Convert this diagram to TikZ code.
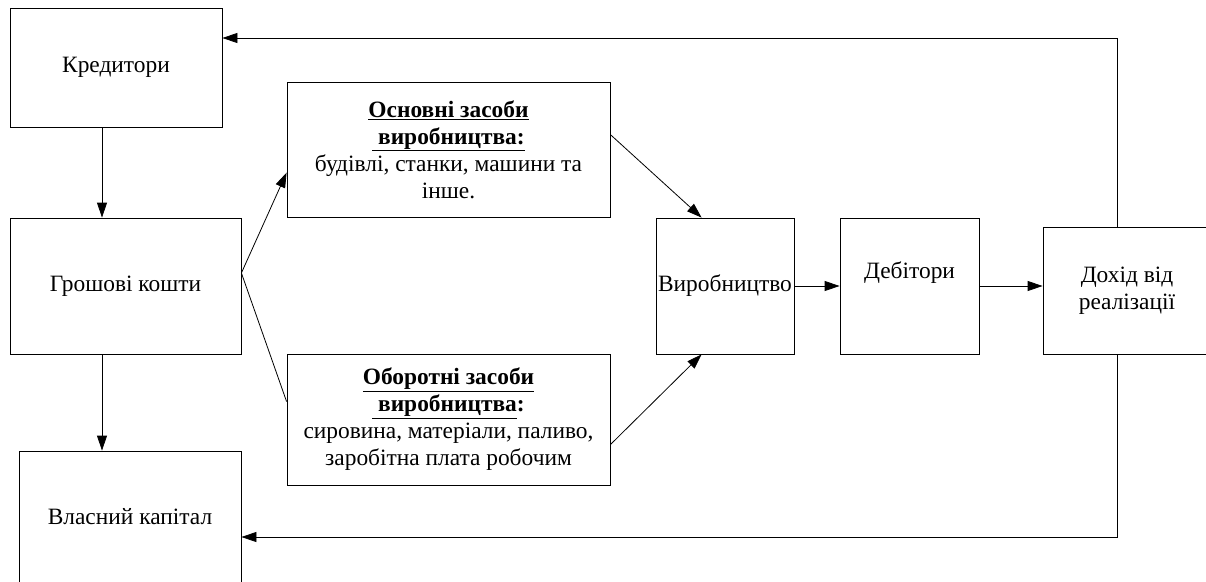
\documentclass[tikz,border=0pt]{standalone}
\usepackage{fontspec}
\setmainfont{Liberation Serif}
\usetikzlibrary{arrows.meta,calc}

\tikzset{
  box/.style={draw=black, line width=0.8pt, rectangle, inner sep=0pt,
              align=center, font=\fontsize{23.4}{27}\selectfont},
  lbl/.style={inner sep=0pt, align=center, font=\fontsize{23.4}{27}\selectfont},
  link/.style={draw=black, line width=0.8pt},
  arr/.style={link, -{Triangle[length=15pt,width=10pt]}}
}

\begin{document}
\begin{tikzpicture}[x=1pt, y=-1pt]
  \useasboundingbox (0,0) rectangle (1206,581);

  % boxes
  \node[box, minimum width=212pt, minimum height=119pt] (kred) at (116,67.5) {Кредитори};
  \node[box, minimum width=231pt, minimum height=136pt] (grosh) at (125.5,286) {Грошові кошти};
  \node[box, minimum width=222pt, minimum height=132pt] (vlas) at (130,517) {Власний капітал};
  \node[box, minimum width=323pt, minimum height=135pt] (osn) at (448.5,149.5)
    {\textbf{\underline{Основні засоби}}\\
     \textbf{\underline{\ виробництва:}}\\
     будівлі, станки, машини та\\
     інше.};
  \node[box, minimum width=323pt, minimum height=131pt] (obor) at (448.5,419.5)
    {\textbf{\underline{Оборотні засоби}}\\
     \textbf{\underline{\ виробництва}:}\\
     сировина, матеріали, паливо,\\
     заробітна плата робочим};
  \node[box, minimum width=138pt, minimum height=136pt] (vyr) at (725,286) {Виробництво};
  \node[box, minimum width=139pt, minimum height=136pt] (deb) at (909.5,286) {};
  \node[lbl] (debt) at (909.5,273) {Дебітори};
  \node[box, minimum width=168pt, minimum height=127pt] (doh) at (1127,290.5) {Дохід від\\реалізації};

  % helper points for the routed connectors
  \coordinate (lx) at (102,0);
  \coordinate (fork) at ($(grosh.east)+(0,-13)$);
  \coordinate (rt) at (1117,38);
  \coordinate (rb) at (1117,537);

  % connectors
  \draw[arr] (kred.south -| lx) -- (grosh.north -| lx);
  \draw[arr] (grosh.south -| lx) -- (vlas.north -| lx);
  \draw[arr] (fork) -- ($(osn.north west)+(0,91)$);
  \draw[link] (fork) -- ($(obor.north west)+(0,48)$);
  \draw[arr] ($(osn.north east)+(0,53)$) -- ($(vyr.north west)+(46,0)$);
  \draw[arr] ($(obor.north east)+(0,91)$) -- ($(vyr.south west)+(46,0)$);
  \draw[arr] (vyr.east) -- (deb.west);
  \draw[arr] (deb.east) -- (deb.east -| doh.west);
  \draw[arr] (doh.north -| rt) -- (rt) -- (rt -| kred.east);
  \draw[arr] (doh.south -| rb) -- (rb) -- (rb -| vlas.east);
\end{tikzpicture}
\end{document}
